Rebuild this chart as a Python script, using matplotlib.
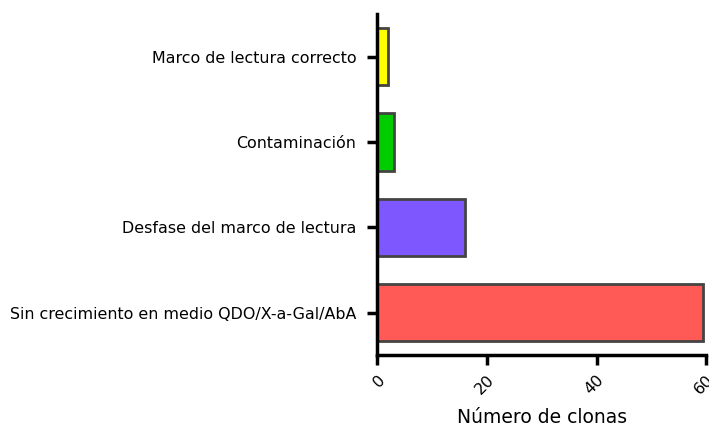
import matplotlib.pyplot as plt

categories = ['Sin crecimiento en medio QDO/X-a-Gal/AbA', 'Desfase del marco de lectura',
              'Contaminación', 'Marco de lectura correcto']
counts = [59.5, 16, 3, 2]
colors = ['#FF5A55', '#7F57FF', '#00CC00', '#FFFF00']
xticks = [0, 20, 40, 60]

fig = plt.figure(figsize=(7.09, 4.26), dpi=100)
ax = fig.add_axes([0.532, 0.166, 0.464, 0.801])

ax.barh(range(len(categories)), counts, height=0.67, color=colors,
        edgecolor='#444444', linewidth=2)

ax.set_xlim(0, 60)
ax.set_ylim(-0.5, 3.5)
ax.set_yticks(range(len(categories)))
ax.set_yticklabels(categories, fontsize=11.4)
ax.set_xticks(xticks)
ax.set_xticklabels([str(t) for t in xticks], rotation=45, ha='right', va='top',
                   rotation_mode='anchor', fontsize=11.5)
ax.set_xlabel('Número de clonas', fontsize=13.5, labelpad=8)

for s in ['top', 'right']:
    ax.spines[s].set_visible(False)
for s in ['left', 'bottom']:
    ax.spines[s].set_linewidth(2.5)
ax.tick_params(width=2.5, length=7)
ax.tick_params(axis='y', pad=8)
ax.tick_params(axis='x', pad=5)

fig.savefig('out.png', dpi=100)
